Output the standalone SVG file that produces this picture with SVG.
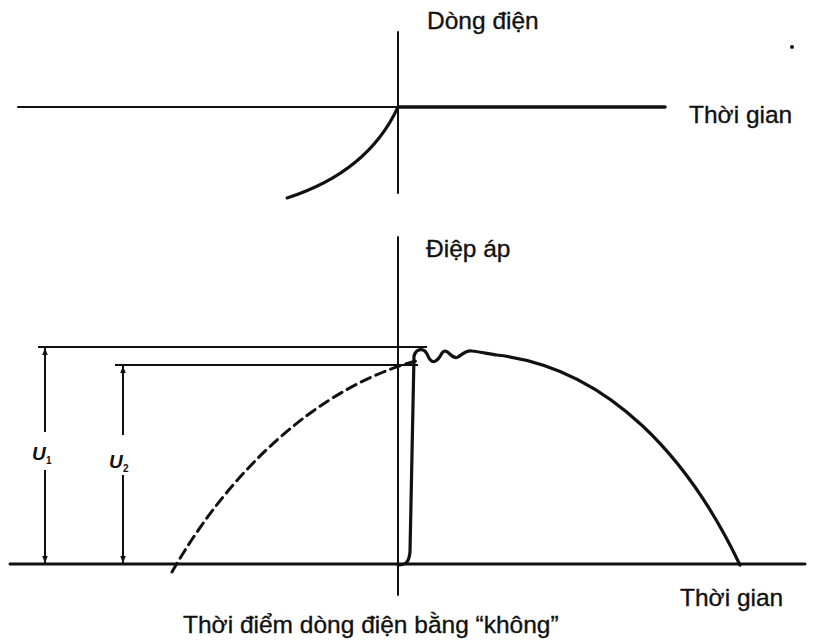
<svg xmlns="http://www.w3.org/2000/svg" width="815" height="641" viewBox="0 0 815 641">
<style>
.t{font-family:"Liberation Sans",Arial,sans-serif;font-size:24.5px;fill:#111;stroke:#111;stroke-width:0.35}
.u{font-family:"Liberation Sans",Arial,sans-serif;font-style:italic;font-weight:bold;font-size:19px;fill:#111}
.s{font-family:"Liberation Sans",Arial,sans-serif;font-weight:bold;font-size:10px;fill:#111}
.ax{stroke:#111;fill:none;stroke-linecap:round}
.dim{stroke:#111;stroke-width:2;fill:none}
</style>
<defs>
<marker id="ah" viewBox="0 0 10 10" refX="10" refY="5" markerWidth="7" markerHeight="7" orient="auto-start-reverse" markerUnits="userSpaceOnUse">
<path d="M0,1 L10,5 L0,9 Z" fill="#111"/>
</marker>
</defs>
<rect width="815" height="641" fill="#fff"/>
<g id="current-graph">
<line class="ax" x1="18" y1="107" x2="398" y2="107" stroke-width="2"/>
<line class="ax" x1="398" y1="107" x2="665" y2="107" stroke-width="3.5"/>
<line class="ax" x1="398" y1="32" x2="398" y2="193" stroke-width="2"/>
<path class="ax" d="M398,107 Q368,172 287,198" stroke-width="3"/>
<text class="t" x="427" y="29">Dòng điện</text>
<text class="t" x="689" y="123">Thời gian</text>
</g>
<g id="voltage-graph">
<line class="ax" x1="10" y1="564" x2="805" y2="564" stroke-width="3"/>
<line class="ax" x1="398" y1="237" x2="398" y2="595" stroke-width="2"/>
<line class="dim" x1="38" y1="347" x2="427" y2="347"/>
<line class="dim" x1="115" y1="365" x2="418" y2="365"/>
<path class="ax" d="M172,572 C230,470 320,385 420,360" stroke-width="3" stroke-dasharray="10,6" stroke-linecap="butt"/>
<path class="ax" d="M398,565 C406,565 409,562 410,552 L414,356 C416,349 424,346 428,356 C432,366 438,361 442,353 C447,346 452,361 458,357 C463,354 466,350 472,351 C480,352 490,354 497,355 C610,368 690,460 740,565" stroke-width="3.2" stroke-linejoin="round"/>
<text class="t" x="426" y="257">Điệp áp</text>
<text class="t" x="680" y="606">Thời gian</text>
<text class="t" x="183" y="633">Thời điểm dòng điện bằng “không”</text>
</g>
<g id="connectors">
<line class="dim" x1="45" y1="432" x2="45" y2="348" marker-end="url(#ah)"/>
<line class="dim" x1="45" y1="470" x2="45" y2="563" marker-end="url(#ah)"/>
<line class="dim" x1="123" y1="435" x2="123" y2="366" marker-end="url(#ah)"/>
<line class="dim" x1="123" y1="475" x2="123" y2="563" marker-end="url(#ah)"/>
</g>
<g id="labels">
<text class="u" x="32" y="460">U</text><text class="s" x="46" y="464">1</text>
<text class="u" x="109" y="468">U</text><text class="s" x="123" y="472">2</text>
</g>
<circle cx="792" cy="47" r="2" fill="#111"/>
</svg>
